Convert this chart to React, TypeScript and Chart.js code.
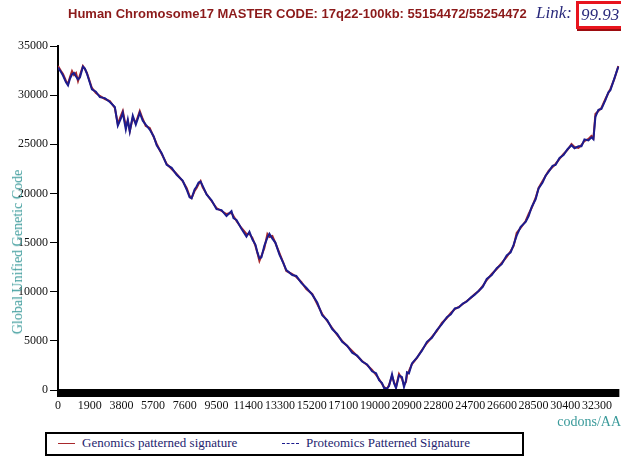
import React, { useEffect, useRef } from "react";
import { Chart, registerables } from "chart.js";

Chart.register(...registerables);

const titleText = "Human Chromosome17 MASTER CODE: 17q22-100kb: 55154472/55254472";
const linkValue = "99.93";
const yAxisTitle = "Global Unified Genetic Code";
const xAxisTitle = "codons/AA";
const seriesNames = ["Genomics patterned signature", "Proteomics Patterned Signature"];

const xTicks = [0, 1900, 3800, 5700, 7600, 9500, 11400, 13300, 15200, 17100, 19000, 20900, 22800, 24700, 26600, 28500, 30400, 32300];
const yTicks = [0, 5000, 10000, 15000, 20000, 25000, 30000, 35000];

const codons = [
  0, 180, 300, 480, 600, 720, 840, 960, 1080, 1200, 1315, 1494, 1613, 1733, 2032, 2271, 2510, 2808, 3107, 3406,
  3585, 3764, 3884, 4063, 4183, 4302, 4481, 4661, 4900, 5079, 5258, 5497, 5736, 5915, 6214, 6513, 6812, 7110, 7469, 7708,
  7887, 8007, 8186, 8305, 8425, 8544, 8664, 8903, 9202, 9500, 9799, 10098, 10397, 10516, 10695, 10994, 11293, 11472, 11651, 11831,
  11950, 12070, 12190, 12368, 12548, 12667, 12846, 13026, 13265, 13504, 13683, 14041, 14280, 14579, 14878, 15236, 15535, 15834, 16133, 16431,
  16730, 17029, 17328, 17627, 17926, 18224, 18523, 18822, 19061, 19240, 19419, 19539, 19718, 19837, 20017, 20136, 20256, 20435, 20614, 20734,
  20853, 20913, 21032, 21211, 21510, 21809, 22108, 22406, 22705, 23004, 23303, 23542, 23781, 24020, 24259, 24498, 24737, 24976, 25215, 25454,
  25693, 25992, 26291, 26589, 26888, 27127, 27306, 27486, 27725, 28024, 28203, 28382, 28621, 28800, 29039, 29218, 29397, 29636, 29815, 30054,
  30293, 30532, 30771, 30951, 31190, 31369, 31548, 31787, 31966, 32086, 32205, 32385, 32564, 32803, 32982, 33102, 33341, 33580,
];

const genomics = [
  32967, 32458, 32153, 31441, 31136, 31848, 32458, 32051, 32255, 31441, 32051, 32967, 32662, 32255, 30729, 30220, 29915, 29609, 29406, 28694,
  27066, 27880, 28388, 26862, 27371, 26353, 27676, 27167, 28388, 27574, 26862, 26659, 25743, 25031, 24013, 22996, 22487, 21978, 21266, 20554,
  19740, 19536, 20248, 20554, 20961, 21266, 20655, 19943, 19231, 18519, 18213, 17908, 18010, 17705, 17196, 16484, 15873, 15873, 15466, 14652,
  13940, 13126, 13635, 14449, 15873, 15568, 15670, 14957, 13940, 12922, 12108, 11803, 11498, 10989, 10277, 9768, 8751, 7733, 7021, 6309,
  5596, 4986, 4477, 3968, 3460, 2951, 2544, 2035, 1526, 1119, 611, 305, 102, 509, 1425, 814, 305, 1628, 1119, 509,
  814, 1526, 1933, 2646, 3256, 4070, 4782, 5393, 6003, 6817, 7326, 7835, 8242, 8445, 8751, 9056, 9361, 9768, 10073, 10582,
  11193, 11803, 12312, 12922, 13533, 14143, 14652, 15975, 16484, 17196, 17908, 18519, 19536, 20554, 21266, 21775, 22283, 22690, 22996, 23504,
  24013, 24420, 25031, 24725, 24624, 24929, 25336, 25539, 25845, 25641, 28083, 28388, 28694, 29609, 30220, 30627, 31644, 32967,
];

const proteomics = [
  32800, 32350, 32000, 31300, 31000, 31700, 32100, 32250, 31900, 31600, 31800, 32900, 32700, 32200, 30600, 30350, 29800, 29700, 29300, 28800,
  26900, 27600, 28200, 26500, 27500, 26300, 27900, 27000, 28200, 27400, 27000, 26500, 25800, 24900, 24100, 22900, 22600, 21900, 21300, 20400,
  19600, 19500, 20400, 20700, 21100, 21200, 20800, 19900, 19300, 18400, 18300, 17700, 18200, 17500, 17300, 16400, 15600, 16100, 15300, 14800,
  14000, 13400, 13500, 14700, 15500, 15900, 15400, 15000, 13800, 12900, 12200, 11700, 11600, 10900, 10400, 9700, 8900, 7600, 7100, 6200,
  5700, 4900, 4500, 3800, 3500, 2900, 2600, 1900, 1700, 1000, 700, 200, 150, 400, 1600, 700, 200, 1500, 1300, 300,
  1000, 1800, 1700, 2700, 3300, 4000, 4900, 5300, 6100, 6700, 7400, 7700, 8300, 8400, 8800, 9000, 9400, 9700, 10100, 10500,
  11300, 11700, 12400, 12800, 13700, 14000, 14800, 15700, 16600, 17100, 17700, 18600, 19400, 20500, 21100, 21800, 22200, 22800, 22900, 23600,
  23900, 24500, 24900, 24600, 24800, 24800, 25500, 25400, 25700, 25500, 27800, 28500, 28600, 29500, 30300, 30500, 31700, 32900,
];

const RED = "#a8282c";
const BLUE = "#1c1c8e";
const TEAL = "#3a9a9a";
const NAVY = "#24246e";

const axisBar = {
  id: "axisBar",
  afterDraw(chart: any) {
    const { ctx, chartArea } = chart;
    ctx.save();
    ctx.fillStyle = "#000";
    ctx.fillRect(chartArea.left - 1, chartArea.bottom - 1, chartArea.right - chartArea.left + 1, 8);
    ctx.restore();
  },
};

export default function App() {
  const ref = useRef<HTMLCanvasElement | null>(null);

  useEffect(() => {
    if (!ref.current) return;
    const chart = new Chart(ref.current, {
      type: "line",
      data: {
        datasets: [
          {
            label: seriesNames[0],
            data: codons.map((x, i) => ({ x, y: genomics[i] })),
            borderColor: RED,
            borderWidth: 2,
            pointRadius: 0,
            tension: 0,
            order: 2,
          },
          {
            label: seriesNames[1],
            data: codons.map((x, i) => ({ x, y: proteomics[i] })),
            borderColor: BLUE,
            borderWidth: 2,
            pointRadius: 0,
            tension: 0,
            order: 1,
          },
        ],
      },
      plugins: [axisBar],
      options: {
        animation: false,
        responsive: false,
        devicePixelRatio: 1,
        layout: { padding: { top: 46, right: 0, bottom: 0, left: 0 } },
        plugins: { legend: { display: false }, title: { display: false }, tooltip: { enabled: false } },
        scales: {
          x: {
            type: "linear",
            min: 0,
            max: 33640,
            afterBuildTicks: (axis: any) => {
              axis.ticks = xTicks.map((v) => ({ value: v }));
            },
            afterFit: (axis: any) => {
              axis.height = 67;
            },
            grid: { display: false, drawTicks: false },
            border: { display: false },
            ticks: {
              autoSkip: false,
              maxRotation: 0,
              padding: 9,
              color: "#111",
              font: { family: "'Liberation Serif', 'Times New Roman', serif", size: 12 },
              callback: (v: any) => String(v),
            },
          },
          y: {
            type: "linear",
            min: 0,
            max: 35000,
            afterBuildTicks: (axis: any) => {
              axis.ticks = yTicks.map((v) => ({ value: v }));
            },
            afterFit: (axis: any) => {
              axis.width = 58;
            },
            grid: { drawOnChartArea: false, drawTicks: true, tickLength: 8, color: "#000", lineWidth: 1 },
            border: { display: true, color: "#000", width: 2 },
            ticks: {
              padding: 2,
              color: "#111",
              font: { family: "'Liberation Serif', 'Times New Roman', serif", size: 12 },
              callback: (v: any) => String(v),
            },
          },
        },
      },
    });
    return () => chart.destroy();
  }, []);

  const serif = "'Liberation Serif', 'Times New Roman', serif";

  return (
    <div style={{ position: "absolute", left: 0, top: 0, width: 621, height: 457, overflow: "hidden", background: "#fff" }}>
      <canvas ref={ref} width={621} height={457} style={{ position: "absolute", left: 0, top: 0 }} />
      <div
        style={{
          position: "absolute", left: 68, top: 6, font: "bold 13px 'Liberation Sans', Arial, sans-serif",
          color: "#8c1a1a", whiteSpace: "nowrap",
        }}
      >
        {titleText}
      </div>
      <div style={{ position: "absolute", left: 536, top: 3, font: `italic 17px ${serif}`, color: "#2a2a7c", whiteSpace: "nowrap" }}>
        Link:
      </div>
      <div
        style={{
          position: "absolute", left: 576, top: 1, width: 50, height: 22, border: "3px solid #e8141e",
          boxShadow: "1px 2px 0 #9c0c10", background: "#fff",
        }}
      >
        <span style={{ position: "absolute", left: 2, top: 1, font: `italic 17px ${serif}`, color: "#2a2a7c", whiteSpace: "nowrap" }}>
          {linkValue}
        </span>
      </div>
      <div
        style={{
          position: "absolute", left: 18, top: 252, transform: "translate(-50%, -50%) rotate(-90deg)",
          font: `14px ${serif}`, color: TEAL, whiteSpace: "nowrap",
        }}
      >
        {yAxisTitle}
      </div>
      <div style={{ position: "absolute", right: 0, top: 414, font: `14px ${serif}`, color: TEAL, whiteSpace: "nowrap" }}>
        {xAxisTitle}
      </div>
      <div
        style={{
          position: "absolute", left: 45, top: 432, width: 475, height: 20, border: "2px solid #000", background: "#fff",
        }}
      >
        <div style={{ position: "absolute", left: 11, top: 9, width: 17, height: 0, borderTop: `1.5px solid ${RED}` }} />
        <div style={{ position: "absolute", left: 35, top: 1, font: `13px ${serif}`, color: NAVY, whiteSpace: "nowrap" }}>
          {seriesNames[0]}
        </div>
        <div style={{ position: "absolute", left: 235, top: 9, width: 17, height: 0, borderTop: `1.5px dashed ${BLUE}` }} />
        <div style={{ position: "absolute", left: 259, top: 1, font: `13px ${serif}`, color: NAVY, whiteSpace: "nowrap" }}>
          {seriesNames[1]}
        </div>
      </div>
    </div>
  );
}
